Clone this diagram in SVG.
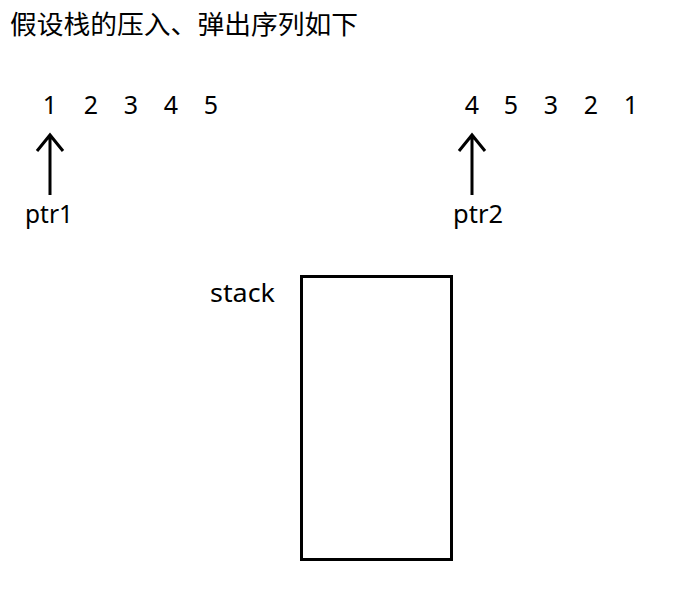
<svg xmlns="http://www.w3.org/2000/svg" width="682" height="590" viewBox="0 0 682 590">
<style>
.t{font-family:"Noto Sans","Noto Sans CJK SC",sans-serif;fill:#000}
.d{font-size:25px;text-anchor:middle}
.l{stroke:#000;stroke-width:3;fill:none;stroke-linecap:butt}
</style>
<rect width="682" height="590" fill="#fff"/>
<g id="title"><text class="t" x="10" y="34" font-size="26" textLength="348" lengthAdjust="spacingAndGlyphs">假设栈的压入、弹出序列如下</text></g>
<g id="push-seq" class="t d">
<text x="50" y="114">1</text><text x="91" y="114">2</text><text x="131" y="114">3</text><text x="171" y="114">4</text><text x="211" y="114">5</text>
</g>
<g id="pop-seq" class="t d">
<text x="472" y="114">4</text><text x="511" y="114">5</text><text x="551" y="114">3</text><text x="591" y="114">2</text><text x="631" y="114">1</text>
</g>
<g id="ptr1"><text class="t" x="25" y="223" font-size="25" textLength="48" lengthAdjust="spacingAndGlyphs">ptr1</text></g>
<g id="ptr2"><text class="t" x="453" y="223" font-size="25" textLength="50" lengthAdjust="spacingAndGlyphs">ptr2</text></g>
<g id="stack-label"><text class="t" x="210" y="302" font-size="25" textLength="65" lengthAdjust="spacingAndGlyphs">stack</text></g>
<g id="stack"><rect x="301.5" y="276.5" width="150" height="283" class="l"/></g>
<g id="connectors" class="l">
<path d="M50 195V135M37 151L50 135L63 151"/>
<path d="M472 195V135M459 151L472 135L485 151"/>
</g>
</svg>
